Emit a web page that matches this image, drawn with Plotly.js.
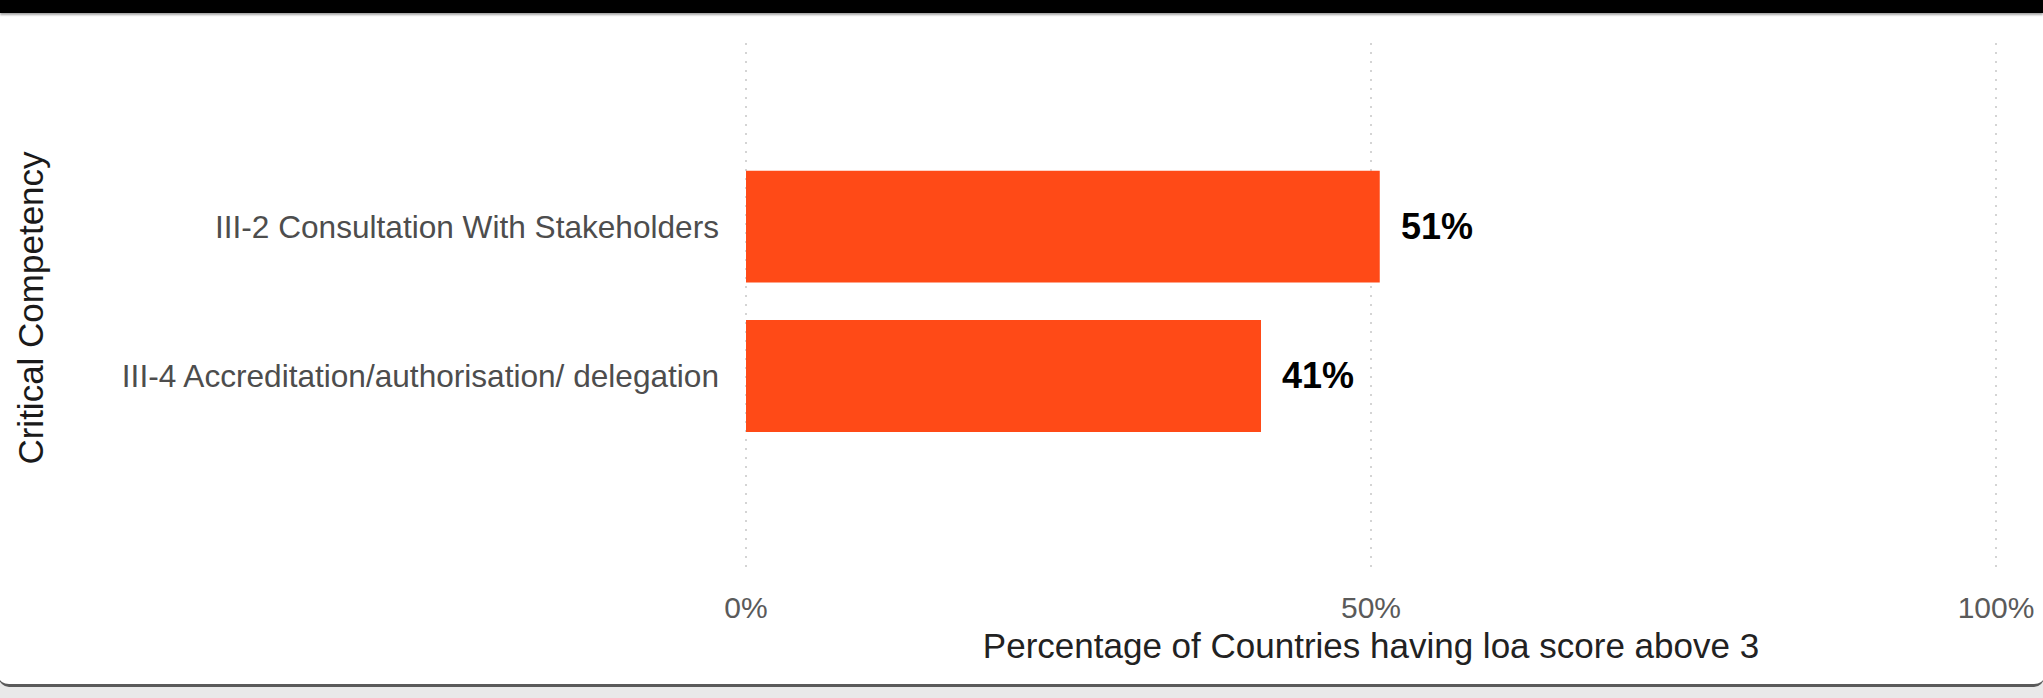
<!DOCTYPE html>
<html>
<head>
<meta charset="utf-8">
<script src="https://cdn.plot.ly/plotly-3.0.1.min.js"></script>
<style>
  html, body { margin: 0; padding: 0; width: 2043px; height: 698px; overflow: hidden; background: #e9e9e9; }
  #topbar { position: absolute; left: 0; top: 0; width: 2043px; height: 13px; background: #000; box-shadow: 0 2px 2px rgba(0,0,0,0.35); z-index: 2; }
  #card { position: absolute; left: -1px; top: 13px; width: 2045px; height: 671px; background: #fff; border: none; border-bottom: 3px solid #5a5a5a; border-radius: 0 0 10px 10px; }
  #chart { position: absolute; left: 0; top: 0; width: 2043px; height: 698px; z-index: 1; }
</style>
</head>
<body>
<div id="card"></div>
<div id="topbar"></div>
<div id="chart"></div>
<script>
// Data (bottom-to-top order on the category axis)
const categories = [
  "III-4 Accreditation/authorisation/ delegation",
  "III-2 Consultation With Stakeholders"
];
const percentValues = [41.2, 50.7];
const xTickVals = [0, 50, 100];
const xTickText = ["0%", "50%", "100%"];
const xTitle = "Percentage of Countries having loa score above 3";
const yTitle = "Critical Competency";

const barTrace = {
  type: "bar",
  orientation: "h",
  x: percentValues,
  y: categories,
  width: 0.75,
  marker: { color: "#FF4A17" },
  hoverinfo: "skip",
  showlegend: false
};

const annotations = percentValues.map((v, i) => ({
  x: v, y: categories[i], xref: "x", yref: "y",
  text: Math.round(v) + "%",
  showarrow: false, xanchor: "left", yanchor: "middle", xshift: 19,
  font: { family: "Liberation Sans, Arial, sans-serif", size: 36, color: "#000", weight: "bold" }
}));

const layout = {
  width: 2043, height: 698,
  margin: { l: 744, r: 45, t: 43, b: 125, pad: 0 },
  paper_bgcolor: "rgba(0,0,0,0)",
  plot_bgcolor: "rgba(0,0,0,0)",
  bargap: 0.25,
  xaxis: {
    range: [-0.16, 100.16],
    tickvals: xTickVals,
    ticktext: xTickText,
    showgrid: true,
    gridcolor: "#d4d4d4",
    griddash: "2px,7px",
    gridwidth: 1.5,
    zeroline: false,
    showline: false,
    ticks: "",
    ticklabelstandoff: 14,
    tickfont: { family: "Liberation Sans, Arial, sans-serif", size: 30, color: "#5a5a5a" },
    title: { text: xTitle, standoff: 10,
      font: { family: "Liberation Sans, Arial, sans-serif", size: 35, color: "#222" } },
    fixedrange: true
  },
  yaxis: {
    type: "category",
    categoryorder: "array",
    categoryarray: categories,
    range: [-1.32, 2.23],
    showgrid: false,
    zeroline: false,
    showline: false,
    ticks: "",
    ticklabelstandoff: 24,
    tickfont: { family: "Liberation Sans, Arial, sans-serif", size: 31.6, color: "#4d4d4d" },
    title: { text: yTitle, standoff: 67,
      font: { family: "Liberation Sans, Arial, sans-serif", size: 35, color: "#1a1a1a" } },
    fixedrange: true
  },
  annotations: annotations,
  showlegend: false
};

Plotly.newPlot("chart", [barTrace], layout, { displayModeBar: false, staticPlot: true });
</script>
</body>
</html>
